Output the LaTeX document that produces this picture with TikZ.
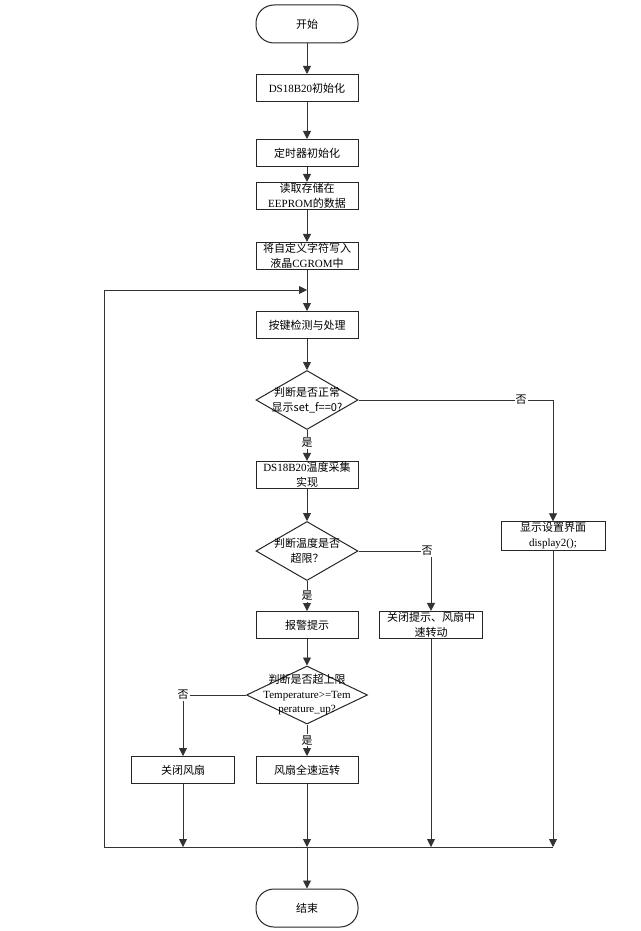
\documentclass[tikz,border=0pt]{standalone}
\usepackage{fontspec}
\setmainfont{Liberation Serif}
\newfontfamily\cjk{Noto Sans CJK SC}
\usetikzlibrary{shapes.geometric,arrows.meta}
\newcommand\zh[1]{{\cjk #1}}
\tikzset{
  ln/.style={draw=black!80, line width=0.9pt},
  arr/.style={ln, -{Triangle[length=8pt,width=8pt]}},
  procbox/.style={draw=black!85, line width=1pt, minimum width=102pt, minimum height=27pt,
    inner sep=1pt, align=center, font=\fontsize{11}{15}\selectfont},
  term/.style={procbox, rounded corners=18pt, minimum height=38pt},
  dia/.style={draw=black!85, line width=1pt, diamond, inner sep=0pt,
    minimum width=102pt, minimum height=59pt},
  diatxt/.style={align=center, inner sep=0pt, font=\fontsize{11}{14.5}\selectfont},
  lbl/.style={fill=white, inner sep=1pt, font=\fontsize{11}{12}\selectfont}
}
\begin{document}
\begin{tikzpicture}[x=1pt,y=-1pt]
\useasboundingbox (0,0) rectangle (640,931);
\fill[white] (0,0) rectangle (640,931);

\node[term] (start) at (307,24) {\zh{开始}};
\node[procbox] (init) at (307,88) {DS18B20\zh{初始化}};
\node[procbox] (timer) at (307,153) {\zh{定时器初始化}};
\node[procbox] (eeprom) at (307,196) {\zh{读取存储在}\\EEPROM\zh{的数据}};
\node[procbox] (cgrom) at (307,256) {\zh{将自定义字符写入}\\\zh{液晶}CGROM\zh{中}};
\node[procbox] (key) at (307,325) {\zh{按键检测与处理}};
\node[dia] (d1) at (307,400) {};
\node[diatxt] (d1t) at (d1) {\zh{判断是否正常}\\\zh{显示set\_f==0?}};
\node[procbox] (ds) at (307,475) {DS18B20\zh{温度采集}\\\zh{实现}};
\node[dia] (d2) at (307,551) {};
\node[diatxt] (d2t) at (d2) {\zh{判断温度是否}\\\zh{超限？}};
\node[procbox] (alarm) at (307,625) {\zh{报警提示}};
\node[procbox, minimum width=103pt] (mid) at (431,625) {\zh{关闭提示、风扇中}\\\zh{速转动}};
\node[procbox, minimum width=104pt] (disp) at (553,536) {\zh{显示设置界面}\\display2();};
\node[dia, minimum width=121pt, minimum height=58pt] (d3) at (307,695) {};
\node[diatxt] (d3t) at (d3) {\zh{判断是否超上限}\\Temperature>=Tem\\perature\_up?};
\node[procbox, minimum width=103pt] (off) at (183,770) {\zh{关闭风扇}};
\node[procbox] (full) at (307,770) {\zh{风扇全速运转}};
\node[term] (stop) at (307,908) {\zh{结束}};

\coordinate (loopJ) at (307,290);
\coordinate (loopL) at (104,290);
\coordinate (botL) at (104,847);
\coordinate (botR) at (553,847);
\coordinate (botM) at (307,847);
\coordinate (c1) at (553,400);
\coordinate (c2) at (431,551);
\coordinate (c3) at (183,695);

\draw[arr] (start) -- (init);
\draw[arr] (init) -- (timer);
\draw[arr] (timer) -- (eeprom);
\draw[arr] (eeprom) -- (cgrom);
\draw[arr] (cgrom) -- (key);
\draw[arr] (botL) -- (loopL) -- (loopJ);
\draw[arr] (key) -- (d1);
\draw[arr] (d1) -- (ds) node[lbl, pos=0.42] {\zh{是}};
\draw[arr] (d1.east) -- (c1) -- (disp.north);
\node[lbl] (n1) at (521,400) {\zh{否}};
\draw[arr] (ds) -- (d2);
\draw[arr] (d2.east) -- (c2) -- (mid.north);
\node[lbl] (n2) at (427,551) {\zh{否}};
\draw[arr] (d2) -- (alarm) node[lbl, pos=0.5] {\zh{是}};
\draw[arr] (alarm) -- (d3);
\draw[arr] (d3.west) -- (c3) -- (off.north);
\node[lbl] (n3) at (183,695) {\zh{否}};
\draw[arr] (d3) -- (full) node[lbl, pos=0.5] {\zh{是}};

\draw[ln] (botL) -- (botR);
\draw[arr] (off.south) -- (off.south |- botL);
\draw[arr] (full.south) -- (botM);
\draw[arr] (mid.south) -- (mid.south |- botL);
\draw[arr] (disp.south) -- (botR);
\draw[arr] (botM) -- (stop);
\end{tikzpicture}
\end{document}
